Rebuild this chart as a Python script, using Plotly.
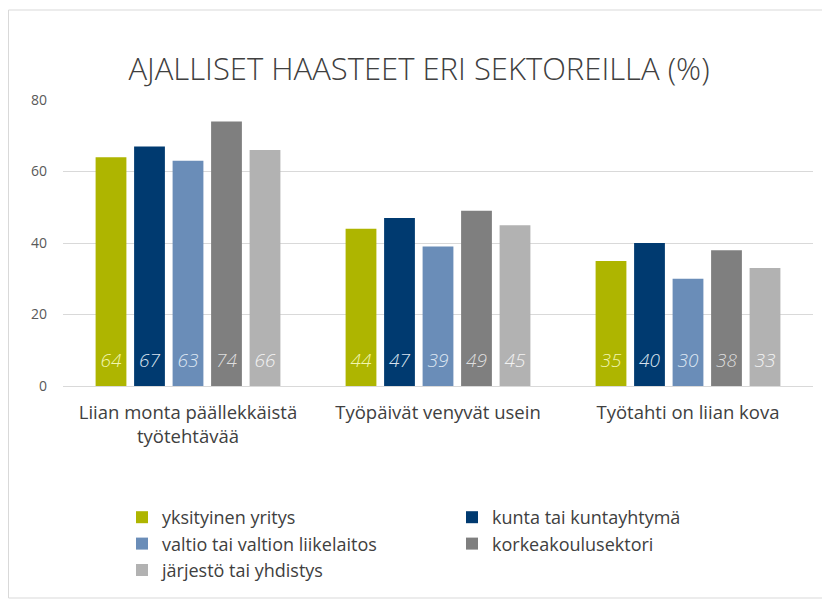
import plotly.graph_objects as go

categories = ["Liian monta päällekkäistä<br>työtehtävää", "Työpäivät venyvät usein", "Työtahti on liian kova"]
series_names = ["yksityinen yritys", "kunta tai kuntayhtymä", "valtio tai valtion liikelaitos",
                "korkeakoulusektori", "järjestö tai yhdistys"]
yksityinen = [64, 44, 35]
kunta = [67, 47, 40]
valtio = [63, 39, 30]
korkeakoulu = [74, 49, 38]
jarjesto = [66, 45, 33]
series_values = [yksityinen, kunta, valtio, korkeakoulu, jarjesto]
colors = ["#AEB500", "#003A70", "#6A8DB8", "#7F7F7F", "#B2B2B2"]
label_colors = ["#F2F5B0", "#D9E2EE", "#DCE6F2", "#DDDDDD", "#F2F2F2"]
legend_ids = ["legend", "legend2", "legend", "legend2", "legend"]
yticks = [0, 20, 40, 60, 80]
LABEL_Y = 6.6  # vertical position (axis units) of the value labels near bar bases

# page body has an 8px margin; figure coordinates are screen coordinates minus 8
W, H = 822, 593
ML, MR, MT, MB = 55, 17, 92, 215
pw, ph = W - ML - MR, H - MT - MB
BARGAP = 0.23

fig = go.Figure()
for i, (name, vals, c, lg) in enumerate(zip(series_names, series_values, colors, legend_ids)):
    fig.add_trace(go.Bar(
        name=name, x=categories, y=vals, marker_color=c, marker_line_width=0,
        legend=lg, offsetgroup=str(i), hoverinfo="skip"))
for i, (vals, lc) in enumerate(zip(series_values, label_colors)):
    fig.add_trace(go.Scatter(
        x=categories, y=[LABEL_Y] * len(vals), mode="text",
        text=[str(v) for v in vals], textposition="middle center",
        textfont=dict(family="Open Sans", size=19, color=lc, style="italic", weight=300),
        offsetgroup=str(i), showlegend=False, hoverinfo="skip"))

def fx(x):  # screen x -> paper
    return (x - 8 - ML) / pw

def fy(y):  # screen y -> paper
    return (H - MB - (y - 8)) / ph

legend_common = dict(orientation="v", xanchor="left", yanchor="top",
                     font=dict(family="Open Sans", size=18, color="#404040"),
                     itemwidth=30, tracegroupgap=0, traceorder="normal",
                     bgcolor="rgba(0,0,0,0)")

fig.update_layout(
    width=W, height=H,
    margin=dict(l=ML, r=MR, t=MT, b=MB, autoexpand=False),
    paper_bgcolor="white", plot_bgcolor="white",
    barmode="group", bargap=BARGAP, bargroupgap=0.2,
    scattermode="group", scattergap=BARGAP,
    title=dict(text="AJALLISET HAASTEET ERI SEKTOREILLA (%)", x=0.5, xanchor="center",
               y=1 - 61 / H, yanchor="middle",
               font=dict(family="Open Sans", size=31, color="#404040", weight=300)),
    font=dict(family="Open Sans", color="#404040"),
    showlegend=True,
    legend=dict(x=fx(122), y=fy(499), **legend_common),
    legend2=dict(x=fx(452), y=fy(499), **legend_common),
    xaxis=dict(showgrid=False, showline=True, linecolor="#D9D9D9", linewidth=1,
               ticks="", ticklabelstandoff=10,
               tickfont=dict(family="Open Sans", size=18.5, color="#404040")),
    yaxis=dict(range=[0, 80], tickvals=yticks, showgrid=True, gridcolor="#D9D9D9",
               gridwidth=1, zeroline=False, showline=False, ticks="", ticklabelstandoff=15,
               tickfont=dict(family="Open Sans", size=14, color="#595959")),
    shapes=[dict(type="rect", xref="paper", yref="paper",
                 x0=fx(8.5), x1=fx(845), y0=fy(598), y1=fy(10),
                 line=dict(color="#D9D9D9", width=1), fillcolor="rgba(0,0,0,0)", layer="below")],
)

fig.write_html("out.html")
